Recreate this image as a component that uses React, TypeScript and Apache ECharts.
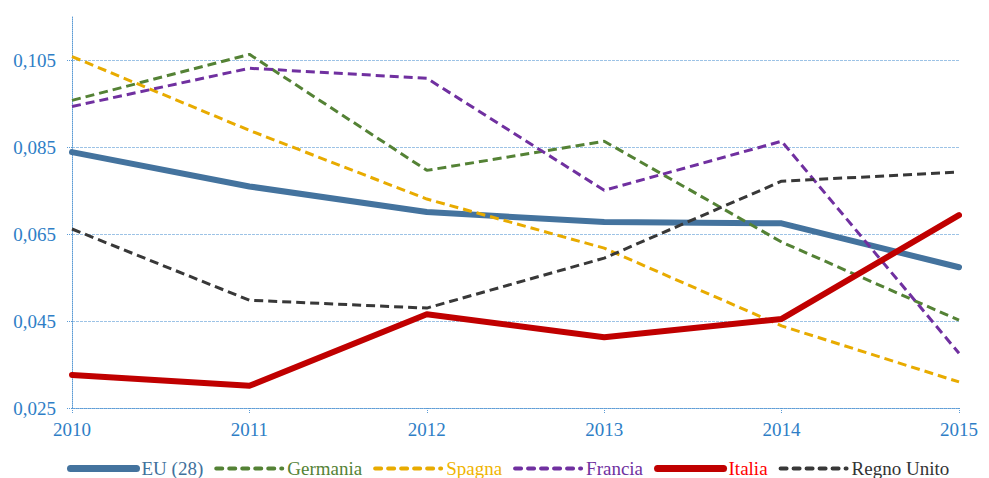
import React, { useEffect, useRef } from "react";
import * as echarts from "echarts";

const years = ["2010", "2011", "2012", "2013", "2014", "2015"];
const eu28 = [0.0839, 0.076, 0.0701, 0.0678, 0.0675, 0.0574];
const germania = [0.0958, 0.1064, 0.0797, 0.0864, 0.0632, 0.0452];
const spagna = [0.1059, 0.0889, 0.0731, 0.0618, 0.0439, 0.031];
const francia = [0.0944, 0.1032, 0.1009, 0.0751, 0.0864, 0.0376];
const italia = [0.0326, 0.0301, 0.0466, 0.0413, 0.0455, 0.0694];
const regnoUnito = [0.0662, 0.0498, 0.048, 0.0595, 0.0772, 0.0793];

const yMin = 0.025;
const yMax = 0.115;
const yStep = 0.02;

const FONT = "'Liberation Serif', 'Times New Roman', serif";
const AXIS_BLUE = "#2E7EC6";
const GRID_BLUE = "#9DC3E6";

export default function App() {
  const ref = useRef<HTMLDivElement>(null);
  useEffect(() => {
    if (!ref.current) return;
    const chart = echarts.init(ref.current, null, { renderer: "svg" });
    const dashed = (name: string, data: number[], color: string) => ({
      name,
      type: "line",
      data,
      symbol: "none",
      lineStyle: { color, width: 3, type: [9, 5], cap: "butt" },
      itemStyle: { color },
    });
    const solid = (name: string, data: number[], color: string) => ({
      name,
      type: "line",
      data,
      symbol: "none",
      lineStyle: { color, width: 6, cap: "round", join: "round" },
      itemStyle: { color },
    });
    const legendItem = (name: string, color: string, textColor: string, thick: boolean) => ({
      name,
      textStyle: { color: textColor, fontSize: 19, fontFamily: FONT },
      lineStyle: thick
        ? { color, width: 7, cap: "round", type: "solid" }
        : { color, width: 4, cap: "round", type: [6, 7] },
    });
    chart.setOption({
      animation: false,
      backgroundColor: "#ffffff",
      textStyle: { fontFamily: FONT },
      grid: { left: 64, right: 13, top: 9, bottom: 70, containLabel: false },
      xAxis: {
        type: "category",
        data: years,
        boundaryGap: false,
        axisLine: { lineStyle: { color: "#5B9BD5", type: "dotted", width: 1 } },
        axisTick: { show: true, length: 5, lineStyle: { color: "#5B9BD5", type: "dotted" } },
        axisLabel: { color: AXIS_BLUE, fontSize: 19, fontFamily: FONT, margin: 12 },
        splitLine: { show: false },
      },
      yAxis: {
        type: "value",
        min: yMin,
        max: yMax,
        interval: yStep,
        axisLine: { show: true, lineStyle: { color: "#5B9BD5", type: "dotted", width: 1 } },
        axisTick: {
          show: true,
          length: 5,
          lineStyle: { color: "#5B9BD5", type: "dotted" },
        },
        axisLabel: {
          color: AXIS_BLUE,
          fontSize: 19,
          fontFamily: FONT,
          margin: 16,
          showMaxLabel: false,
          formatter: (v: number) => v.toFixed(3).replace(".", ","),
        },
        splitLine: {
          show: true,
          lineStyle: {
            color: [GRID_BLUE, GRID_BLUE, GRID_BLUE, GRID_BLUE, GRID_BLUE, "rgba(0,0,0,0)"],
            type: [3, 1],
            width: 1,
          },
        },
      },
      legend: {
        top: 446,
        left: 54,
        itemWidth: 66,
        itemHeight: 14,
        itemGap: 11,
        itemStyle: { opacity: 0 },
        textStyle: { fontSize: 19, fontFamily: FONT },
        data: [
          legendItem("EU (28)", "#44739E", "#41719C", true),
          legendItem("Germania", "#548235", "#548235", false),
          legendItem("Spagna", "#E8AB00", "#F0B400", false),
          legendItem("Francia", "#7030A0", "#7030A0", false),
          legendItem("Italia", "#C00000", "#FF0000", true),
          legendItem("Regno Unito", "#383838", "#333333", false),
        ],
      },
      series: [
        solid("EU (28)", eu28, "#44739E"),
        dashed("Germania", germania, "#548235"),
        dashed("Spagna", spagna, "#E8AB00"),
        dashed("Francia", francia, "#7030A0"),
        solid("Italia", italia, "#C00000"),
        dashed("Regno Unito", regnoUnito, "#383838"),
      ],
    });
    return () => chart.dispose();
  }, []);
  return <div ref={ref} style={{ width: 973, height: 470 }} />;
}
